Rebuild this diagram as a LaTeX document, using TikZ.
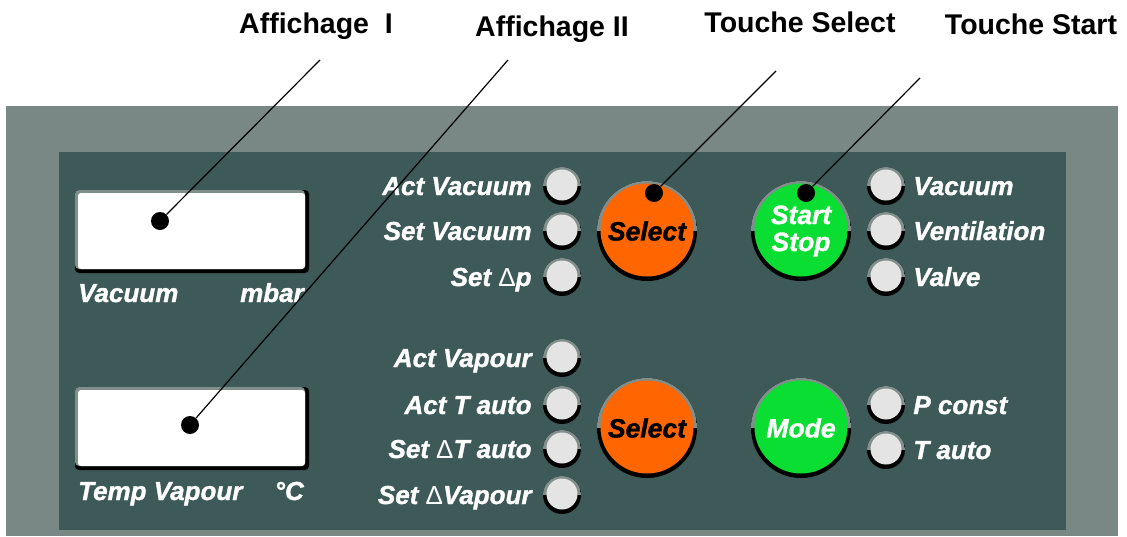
\documentclass[tikz,border=0pt]{standalone}
\usepackage{fontspec}
\setmainfont{Liberation Sans}
\newfontfamily\heavyfont{Liberation Sans}[BoldItalicFeatures={FakeBold=1.3}]
\usetikzlibrary{positioning}
\newcommand{\dlt}{{\normalfont Δ}}

\begin{document}
\begin{tikzpicture}[x=1pt,y=1pt,yscale=-1,xscale=1,
  toplabel/.style={font=\fontsize{28.5}{30}\selectfont\bfseries, inner sep=0, anchor=base},
  paneltext/.style={text=white, font=\fontsize{26}{28}\selectfont\heavyfont\bfseries\itshape, inner sep=0, text height=18, text depth=0},
  led/.style={circle, inner sep=0, minimum size=38, fill=black, path picture={
    \fill[color={rgb, 255:red, 128; green, 143; blue, 140}] (path picture bounding box.west) rectangle (path picture bounding box.north east);
    \fill[color={rgb, 255:red, 228; green, 228; blue, 228}] ([yshift=1pt]path picture bounding box.center) circle (15.5pt);}},
  button/.style={circle, inner sep=0, minimum size=100, fill=black, align=center,
    font=\fontsize{26.5}{27}\selectfont\heavyfont\bfseries\itshape, path picture={
    \fill[color={rgb, 255:red, 128; green, 143; blue, 140}] (path picture bounding box.west) rectangle (path picture bounding box.north east);
    \fill[#1] ([yshift=1pt]path picture bounding box.center) circle (46.5pt);}},
  dot/.style={circle, fill=black, inner sep=0, minimum size=18},
  leader/.style={line width=1.2pt}
]
\useasboundingbox (0,0) rectangle (1127,536);

%Shape: Rectangle [outer panel]
\fill[color={rgb, 255:red, 122; green, 136; blue, 133}] (6,106) rectangle (1118,536);
%Shape: Rectangle [inner panel]
\fill[color={rgb, 255:red, 61; green, 89; blue, 88}] (59,152) rectangle (1066,530);

%Shape: Rectangle [display I]
\fill[black, rounded corners=4] (75,190) rectangle (309,273);
\fill[color={rgb, 255:red, 128; green, 143; blue, 140}, rounded corners=4] (75,190) rectangle (305,269);
\fill[white, rounded corners=3] (78,193) rectangle (305,269);
%Shape: Rectangle [display II]
\fill[black, rounded corners=4] (75,387) rectangle (309,470);
\fill[color={rgb, 255:red, 128; green, 143; blue, 140}, rounded corners=4] (75,387) rectangle (305,466);
\fill[white, rounded corners=3] (78,390) rectangle (305,466);

\node[paneltext, anchor=base west] (txtVac) at (78,302) {Vacuum};
\node[paneltext, anchor=base east] (txtMbar) at (304,302) {mbar};
\node[paneltext, anchor=base west] (txtTemp) at (78,500) {Temp Vapour};
\node[paneltext, anchor=base east] (txtDeg) at (304,500) {°C};

%Shape: Circle [leds, left column]
\node[led] (ledActVac) at (562,186) {};
\node[led] (ledSetVac) at (562,231) {};
\node[led] (ledSetDp) at (562,277) {};
\node[led] (ledActVap) at (562,358) {};
\node[led] (ledActT) at (562,405) {};
\node[led] (ledSetDT) at (562,449) {};
\node[led] (ledSetDVap) at (562,495) {};
\node[paneltext, left=11 of ledActVac] (lblActVac) {Act Vacuum};
\node[paneltext, left=11 of ledSetVac] (lblSetVac) {Set Vacuum};
\node[paneltext, left=11 of ledSetDp] (lblSetDp) {Set \dlt p};
\node[paneltext, left=11 of ledActVap] (lblActVap) {Act Vapour};
\node[paneltext, left=11 of ledActT] (lblActT) {Act T auto};
\node[paneltext, left=11 of ledSetDT] (lblSetDT) {Set \dlt T auto};
\node[paneltext, left=11 of ledSetDVap] (lblSetDVap) {Set \dlt Vapour};

%Shape: Circle [leds, right column]
\node[led] (ledVac) at (886,186) {};
\node[led] (ledVent) at (886,231) {};
\node[led] (ledValve) at (886,277) {};
\node[led] (ledPconst) at (886,405) {};
\node[led] (ledTauto) at (886,450) {};
\node[paneltext, right=8 of ledVac] (lblVac) {Vacuum};
\node[paneltext, right=8 of ledVent] (lblVent) {Ventilation};
\node[paneltext, right=8 of ledValve] (lblValve) {Valve};
\node[paneltext, right=8 of ledPconst] (lblPconst) {P const};
\node[paneltext, right=8 of ledTauto] (lblTauto) {T auto};

%Shape: Circle [buttons]
\node[button={color={rgb, 255:red, 255; green, 102; blue, 0}}, text=black] (btnSelA) at (647,231) {Select};
\node[button={color={rgb, 255:red, 255; green, 102; blue, 0}}, text=black] (btnSelB) at (647,428) {Select};
\node[button={color={rgb, 255:red, 10; green, 222; blue, 50}}, text=white] (btnStart) at (801,231) {Start\\Stop};
\node[button={color={rgb, 255:red, 10; green, 222; blue, 50}}, text=white] (btnMode) at (801,428) {Mode};

%Shape: Circle [pointer dots]
\node[dot] (dotDispA) at (160,221) {};
\node[dot] (dotDispB) at (190,425) {};
\node[dot] (dotSelect) at (654,193) {};
\node[dot] (dotStart) at (806,193) {};

%Top labels
\node[toplabel] (capDispA) at (316,33) {Affichage~~I};
\node[toplabel] (capDispB) at (552,36) {Affichage II};
\node[toplabel] (capSelect) at (800,32) {Touche Select};
\node[toplabel] (capStart) at (1031,34) {Touche Start};

%Straight Lines
\coordinate (tipDispA) at (320,60);
\coordinate (tipDispB) at (508,60);
\coordinate (tipSelect) at (776,71);
\coordinate (tipStart) at (920,78);
\draw[leader] (tipDispA) -- (dotDispA);
\draw[leader] (tipDispB) -- (dotDispB);
\draw[leader] (tipSelect) -- (dotSelect);
\draw[leader] (tipStart) -- (dotStart);
\end{tikzpicture}
\end{document}
